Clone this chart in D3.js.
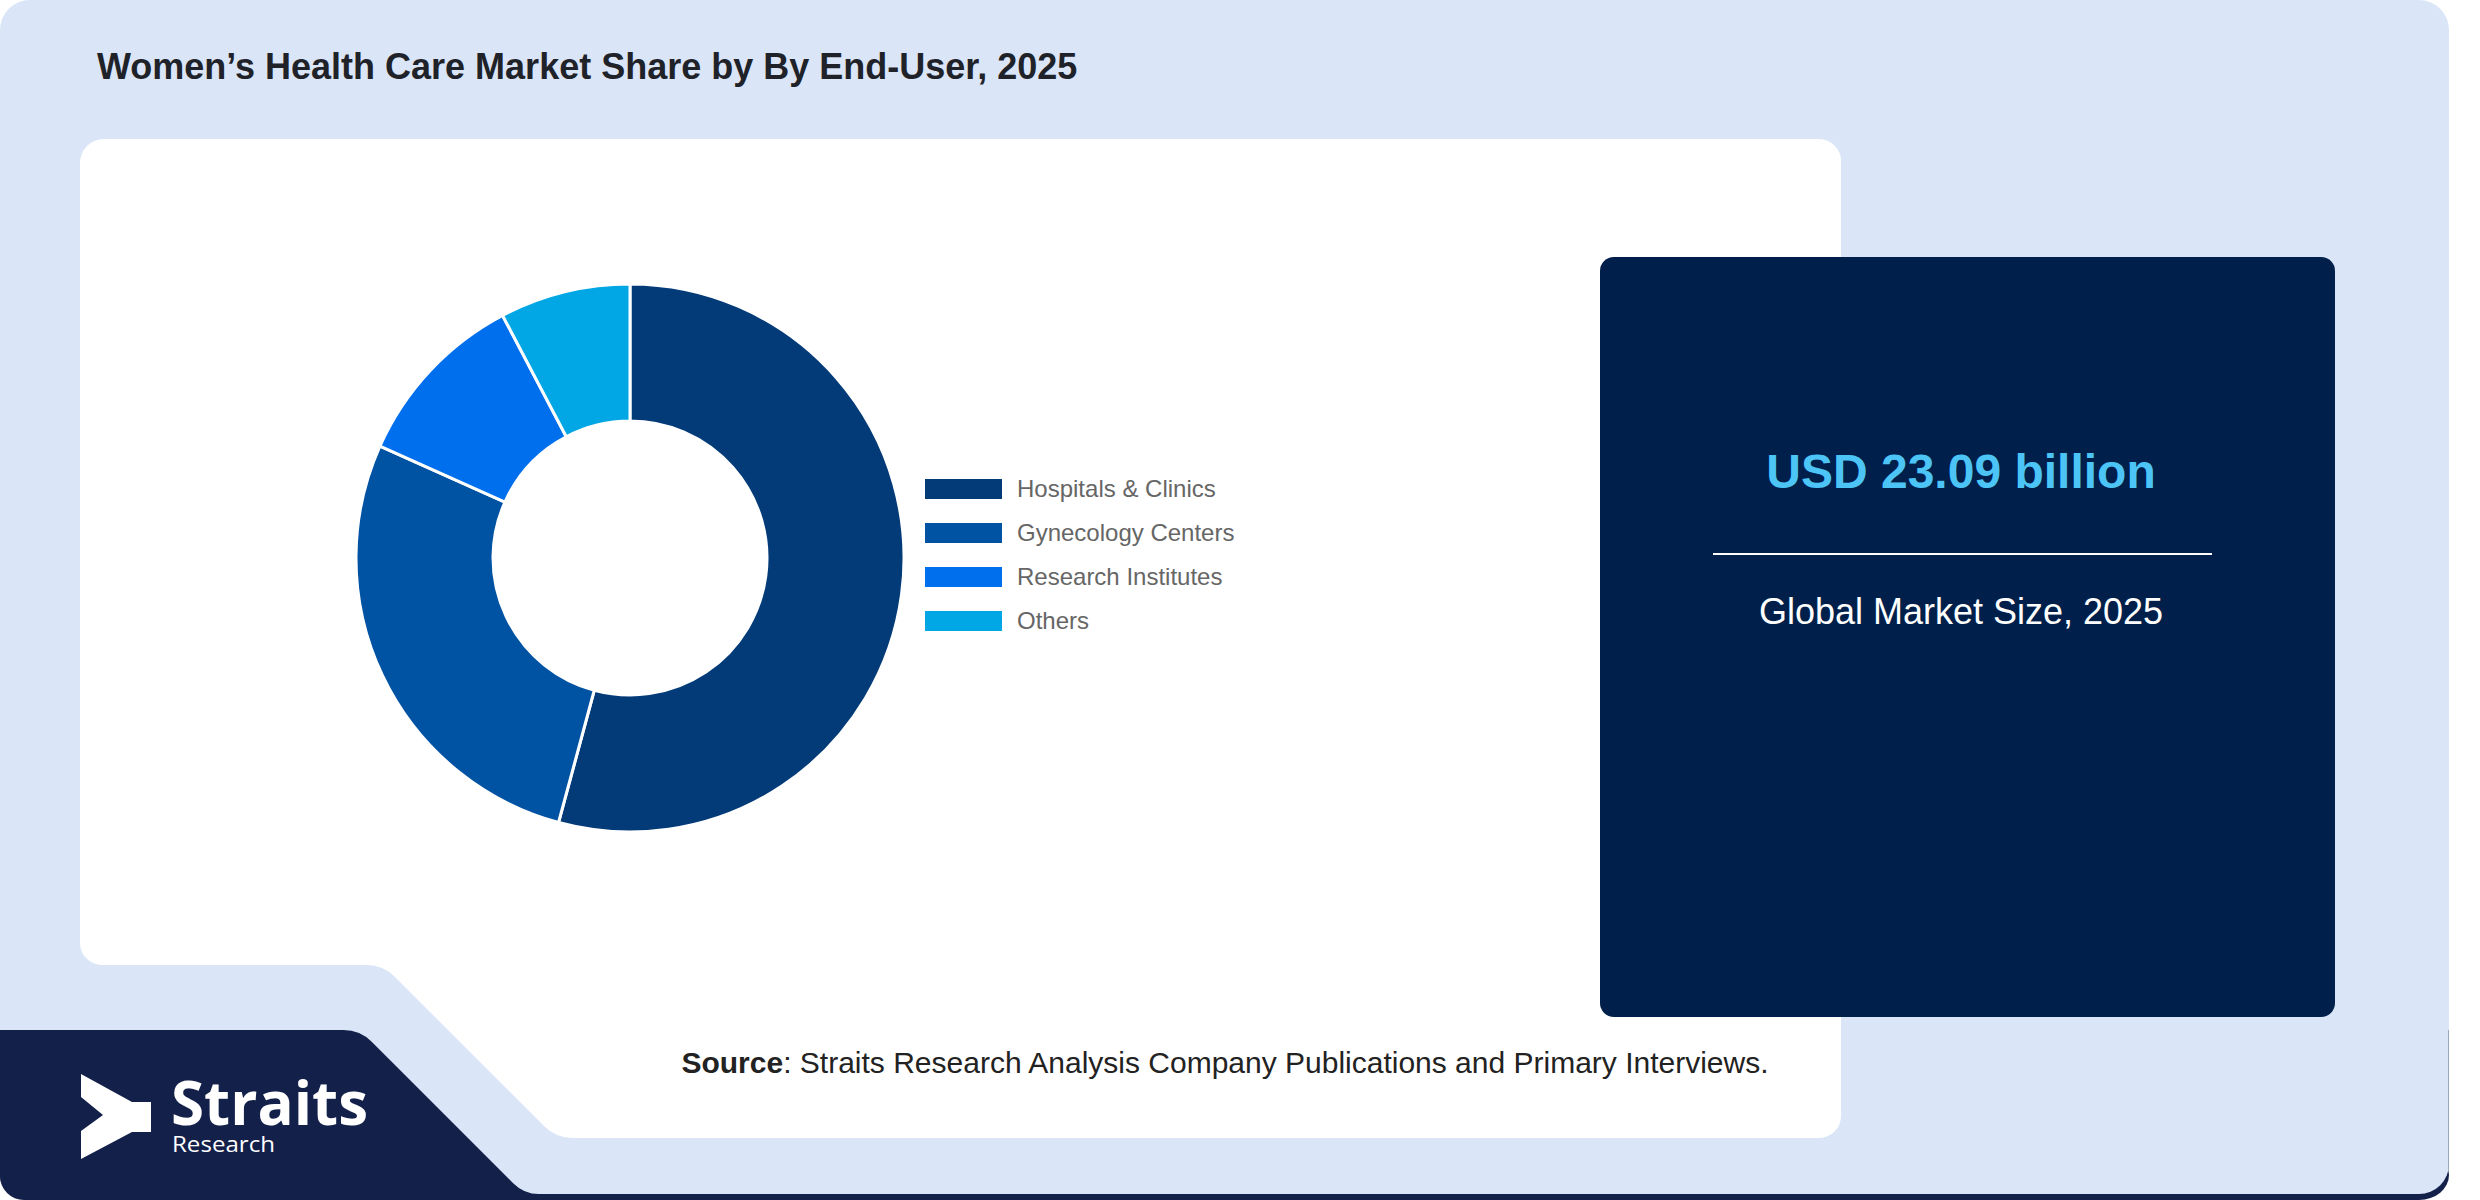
<!DOCTYPE html>
<html>
<head>
<meta charset="utf-8">
<script src="https://cdn.jsdelivr.net/npm/d3@7"></script>
<style>
  html, body { margin: 0; padding: 0; background: #ffffff; }
  svg { display: block; }
</style>
</head>
<body>
<svg id="chart" width="2480" height="1200"></svg>
<script>
const CHART_TITLE = "Women’s Health Care Market Share by By End-User, 2025";
const CATEGORIES = ["Hospitals & Clinics", "Gynecology Centers", "Research Institutes", "Others"];
const SHARES = [54.2, 27.5, 10.6, 7.7];
const SLICE_COLORS = ["#023b78", "#0052a3", "#006fee", "#00a7e4"];
const MARKET_VALUE = "USD 23.09 billion";
const MARKET_LABEL = "Global Market Size, 2025";
const SOURCE_LABEL = "Source";
const SOURCE_TEXT = ": Straits Research Analysis Company Publications and Primary Interviews.";
const BRAND_NAME = "Straits";
const BRAND_SUB = "Research";

const WIDTH = 2480;
const HEIGHT = 1200;
const CARD_RIGHT = 2449;
const CARD_FILL = "#dae6f8";
const NAVY = "#13204a";
const PANEL_FILL = "#001f4a";


// closed polygon with rounded corners, one radius per vertex
function roundedPath(points, radii) {
  const path = d3.path();
  const n = points.length;
  const last = points[n - 1];
  const first = points[0];
  path.moveTo((last[0] + first[0]) / 2, (last[1] + first[1]) / 2);
  points.forEach((p, i) => {
    const next = points[(i + 1) % n];
    if (radii[i] > 0) {
      path.arcTo(p[0], p[1], next[0], next[1], radii[i]);
    } else {
      path.lineTo(p[0], p[1]);
    }
  });
  path.closePath();
  return path.toString();
}


class Backdrop {

  constructor(svg) {
    const self = this;
    self._svg = svg;
  }

  draw() {
    const self = this;
    const svg = self._svg;

    // dark rim under the card bottom
    svg.append("rect")
      .attr("x", 0).attr("y", 1150)
      .attr("width", CARD_RIGHT).attr("height", HEIGHT - 1150)
      .attr("rx", 30)
      .attr("fill", NAVY);

    svg.append("rect")
      .attr("x", 0).attr("y", 0)
      .attr("width", CARD_RIGHT).attr("height", 1194)
      .attr("rx", 30)
      .attr("fill", CARD_FILL);

    svg.append("line")
      .attr("x1", CARD_RIGHT - 0.5).attr("x2", CARD_RIGHT - 0.5)
      .attr("y1", 1030).attr("y2", 1170)
      .attr("stroke", "#9aa6ba").attr("stroke-width", 1);

    // navy logo band, bottom left
    svg.append("path")
      .attr("d", roundedPath(
        [[0, 1030], [360, 1030], [524, 1194], [900, 1194], [900, 1200], [0, 1200]],
        [0, 40, 36, 0, 0, 24]))
      .attr("fill", NAVY);

    // white chart panel with the notch
    svg.append("path")
      .attr("d", roundedPath(
        [[80, 139], [1841, 139], [1841, 1138], [556, 1138], [383, 965], [80, 965]],
        [24, 22, 22, 40, 40, 22]))
      .attr("fill", "#ffffff");
  }

}


class DonutPresenter {

  constructor(svg) {
    const self = this;
    self._svg = svg;
    self._cx = 630;
    self._cy = 558;
    self._outer = 274;
    self._inner = 137;
    self._color = d3.scaleOrdinal().domain(CATEGORIES).range(SLICE_COLORS);
  }

  draw() {
    const self = this;

    const pie = d3.pie().sort(null).value((d) => d.value);
    const arc = d3.arc().innerRadius(self._inner).outerRadius(self._outer);
    const records = CATEGORIES.map((name, i) => ({ "name": name, "value": SHARES[i] }));

    self._svg.append("g")
      .attr("transform", "translate(" + self._cx + "," + self._cy + ")")
      .selectAll(".slice")
      .data(pie(records))
      .enter()
      .append("path")
      .classed("slice", true)
      .attr("d", arc)
      .attr("fill", (d) => self._color(d.data.name))
      .attr("stroke", "#ffffff")
      .attr("stroke-width", 3)
      .attr("stroke-linejoin", "round");

    self._drawLegend();
  }

  _drawLegend() {
    const self = this;

    const rowScale = d3.scaleBand()
      .domain(CATEGORIES)
      .range([467, 467 + 44 * CATEGORIES.length]);

    const rows = self._svg.append("g")
      .selectAll(".legend-row")
      .data(CATEGORIES)
      .enter()
      .append("g")
      .classed("legend-row", true)
      .attr("transform", (d) => "translate(925," + (rowScale(d) + rowScale.bandwidth() / 2) + ")");

    rows.append("rect")
      .attr("x", 0).attr("y", -10)
      .attr("width", 77).attr("height", 20)
      .attr("fill", (d) => self._color(d));

    rows.append("text")
      .attr("x", 92).attr("y", 0)
      .attr("dy", "0.35em")
      .attr("font-family", "'Liberation Sans', Arial, sans-serif")
      .attr("font-size", 24)
      .attr("fill", "#666666")
      .text((d) => d);
  }

}


function drawTexts(svg) {
  svg.append("text")
    .attr("x", 97).attr("y", 79)
    .attr("font-family", "'Liberation Sans', Arial, sans-serif")
    .attr("font-weight", "bold")
    .attr("font-size", 36)
    .attr("fill", "#1f2329")
    .text(CHART_TITLE);

  // market size card
  svg.append("rect")
    .attr("x", 1600).attr("y", 257)
    .attr("width", 735).attr("height", 760)
    .attr("rx", 14)
    .attr("fill", PANEL_FILL);

  const midX = 1961;
  svg.append("text")
    .attr("x", midX).attr("y", 488)
    .attr("text-anchor", "middle")
    .attr("font-family", "'Liberation Sans', Arial, sans-serif")
    .attr("font-weight", "bold")
    .attr("font-size", 48)
    .attr("fill", "#4cc4f6")
    .text(MARKET_VALUE);

  svg.append("line")
    .attr("x1", 1713).attr("x2", 2212)
    .attr("y1", 554).attr("y2", 554)
    .attr("stroke", "#ffffff").attr("stroke-width", 2);

  svg.append("text")
    .attr("x", midX).attr("y", 624)
    .attr("text-anchor", "middle")
    .attr("font-family", "'Liberation Sans', Arial, sans-serif")
    .attr("font-size", 36)
    .attr("fill", "#ffffff")
    .text(MARKET_LABEL);

  const source = svg.append("text")
    .attr("x", 1225).attr("y", 1073)
    .attr("text-anchor", "middle")
    .attr("font-family", "'Liberation Sans', Arial, sans-serif")
    .attr("font-size", 30)
    .attr("fill", "#222222");
  source.append("tspan").attr("font-weight", "bold").text(SOURCE_LABEL);
  source.append("tspan").text(SOURCE_TEXT);
}


function drawLogo(svg) {
  svg.append("path")
    .attr("d", d3.line()([
      [81, 1074], [132, 1102], [151, 1102], [151, 1132], [132, 1132],
      [81, 1159], [81, 1131], [103, 1115], [81, 1097]
    ]) + "Z")
    .attr("fill", "#ffffff");

  const brand = svg.append("text")
    .attr("font-family", "'Open Sans', 'Noto Sans', sans-serif")
    .attr("fill", "#ffffff");

  brand.append("tspan")
    .attr("x", 171).attr("y", 1125)
    .attr("font-weight", "bold")
    .attr("font-size", 60)
    .attr("textLength", 197)
    .attr("lengthAdjust", "spacingAndGlyphs")
    .text(BRAND_NAME);

  brand.append("tspan")
    .attr("x", 172).attr("y", 1152)
    .attr("font-size", 21)
    .attr("textLength", 103)
    .attr("lengthAdjust", "spacingAndGlyphs")
    .text(BRAND_SUB);
}


const svg = d3.select("#chart");
new Backdrop(svg).draw();
new DonutPresenter(svg).draw();
drawTexts(svg);
drawLogo(svg);
</script>
</body>
</html>
